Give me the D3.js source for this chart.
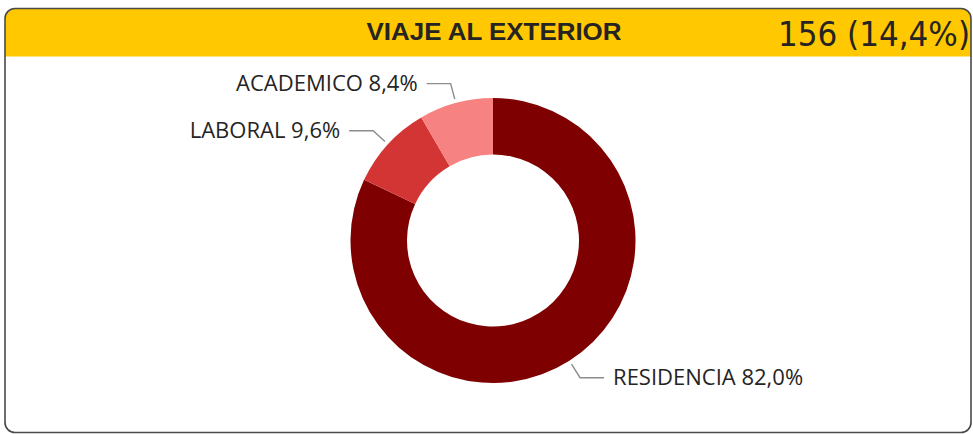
<!DOCTYPE html>
<html>
<head>
<meta charset="utf-8">
<script src="https://cdn.jsdelivr.net/npm/d3@7"></script>
<style>
  html, body { margin: 0; padding: 0; background: #fff; }
  svg { display: block; }
</style>
</head>
<body>
<svg id="chart"></svg>
<script>
const categories = ["RESIDENCIA", "LABORAL", "ACADEMICO"];
const shares = [82.0, 9.6, 8.4];
const sliceColors = ["#7f0000", "#d33535", "#f78282"];
const titleText = "VIAJE AL EXTERIOR";
const totalText = "156 (14,4%)";

const W = 973, H = 434;
const cx = 493, cy = 240.5;
const outerR = 142.5, innerR = 86;

const svg = d3.select("#chart")
  .attr("width", W)
  .attr("height", H);

// card frame with yellow header
const card = { x: 5, y: 8.5, w: 966, h: 424, r: 10, head: 48 };

svg.append("defs").append("clipPath")
  .attr("id", "card-clip")
  .append("rect")
  .attr("x", card.x).attr("y", card.y)
  .attr("width", card.w).attr("height", card.h)
  .attr("rx", card.r);

svg.append("rect")
  .attr("x", card.x).attr("y", card.y)
  .attr("width", card.w).attr("height", card.h)
  .attr("rx", card.r)
  .attr("fill", "#fff");

svg.append("rect")
  .attr("clip-path", "url(#card-clip)")
  .attr("x", card.x).attr("y", card.y)
  .attr("width", card.w).attr("height", card.head)
  .attr("fill", "#ffc800");

svg.append("rect")
  .attr("x", card.x).attr("y", card.y)
  .attr("width", card.w).attr("height", card.h)
  .attr("rx", card.r)
  .attr("fill", "none")
  .attr("stroke", "#4a4a4a")
  .attr("stroke-width", 1.6);

svg.append("text")
  .attr("x", 494)
  .attr("y", 39.5)
  .attr("text-anchor", "middle")
  .attr("font-family", "'Liberation Sans', Arial, sans-serif")
  .attr("font-weight", "bold")
  .attr("font-size", 23)
  .attr("textLength", 255)
  .attr("lengthAdjust", "spacingAndGlyphs")
  .attr("fill", "#252423")
  .text(titleText);

svg.append("text")
  .attr("x", 778)
  .attr("y", 46)
  .attr("font-family", "'DejaVu Sans Condensed', 'DejaVu Sans', sans-serif")
  .attr("font-size", 33)
  .attr("textLength", 192)
  .attr("lengthAdjust", "spacingAndGlyphs")
  .attr("fill", "#252423")
  .text(totalText);

// donut
const rows = categories.map((c, i) => ({ name: c, value: shares[i], color: sliceColors[i] }));

const pie = d3.pie()
  .value(d => d.value)
  .sort(null);

const arc = d3.arc()
  .innerRadius(innerR)
  .outerRadius(outerR);

const g = svg.append("g")
  .attr("transform", `translate(${cx},${cy})`);

const arcs = pie(rows);

g.selectAll(".slice")
  .data(arcs)
  .join("path")
  .attr("class", "slice")
  .attr("d", arc)
  .attr("fill", d => d.data.color);

// leader lines + labels
const fmt = v => v.toFixed(1).replace(".", ",") + "%";
const startR = outerR + 4, elbowR = outerR + 20, runLen = 24, gap = 9;

const pt = (angle, r) => [Math.sin(angle) * r, -Math.cos(angle) * r];

arcs.forEach(d => {
  const mid = (d.startAngle + d.endAngle) / 2;
  const p0 = pt(mid, startR);
  const p1 = pt(mid, elbowR);
  const right = Math.sin(mid) > 0;
  const p2 = [p1[0] + (right ? runLen : -runLen), p1[1]];

  g.append("polyline")
    .attr("points", [p0, p1, p2].map(p => p.join(",")).join(" "))
    .attr("fill", "none")
    .attr("stroke", "#8c8c8c")
    .attr("stroke-width", 1.4);

  g.append("text")
    .attr("x", p2[0] + (right ? gap : -gap))
    .attr("y", p2[1])
    .attr("dy", "0.35em")
    .attr("text-anchor", right ? "start" : "end")
    .attr("font-family", "'Open Sans', 'Noto Sans', sans-serif")
    .attr("font-size", 22)
    .attr("fill", "#252423")
    .text(`${d.data.name} ${fmt(d.data.value)}`);
});
</script>
</body>
</html>
